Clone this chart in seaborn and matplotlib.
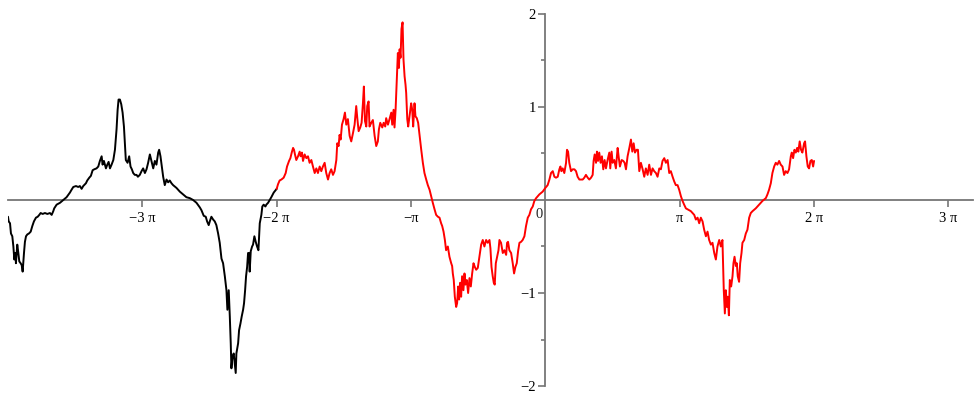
import numpy as np
import pandas as pd
import matplotlib
matplotlib.use("Agg")
import matplotlib.pyplot as plt
import seaborn as sns

sns.set_style("white")
plt.rcParams['font.family'] = ['Liberation Serif', 'DejaVu Serif']

# x values are given in multiples of pi
black_t = [
    -4.000, -3.995, -3.985, -3.978, -3.968, -3.960, -3.953, -3.945, -3.941, -3.931,
    -3.923, -3.916, -3.906, -3.898, -3.891, -3.881, -3.874, -3.866, -3.856, -3.844,
    -3.831, -3.819, -3.807, -3.792, -3.779, -3.767, -3.757, -3.742, -3.725, -3.707,
    -3.688, -3.675, -3.663, -3.656, -3.638, -3.613, -3.589, -3.564, -3.539, -3.527,
    -3.514, -3.494, -3.477, -3.465, -3.452, -3.440, -3.420, -3.410, -3.395, -3.383,
    -3.370, -3.358, -3.341, -3.328, -3.316, -3.303, -3.296, -3.286, -3.271, -3.261,
    -3.251, -3.241, -3.229, -3.216, -3.204, -3.192, -3.184, -3.177, -3.167, -3.157,
    -3.147, -3.137, -3.130, -3.123, -3.110, -3.098, -3.088, -3.078, -3.068, -3.056,
    -3.043, -3.033, -3.019, -3.006, -2.994, -2.981, -2.969, -2.957, -2.944, -2.932,
    -2.919, -2.907, -2.895, -2.882, -2.875, -2.865, -2.857, -2.845, -2.833, -2.820,
    -2.808, -2.796, -2.783, -2.771, -2.746, -2.721, -2.696, -2.672, -2.647, -2.622,
    -2.597, -2.572, -2.560, -2.543, -2.528, -2.518, -2.506, -2.498, -2.486, -2.473,
    -2.461, -2.449, -2.436, -2.424, -2.411, -2.399, -2.386, -2.374, -2.367, -2.357,
    -2.349, -2.342, -2.337, -2.330, -2.320, -2.312, -2.305, -2.300, -2.292, -2.287,
    -2.280, -2.270, -2.260, -2.250, -2.243, -2.235, -2.228, -2.220, -2.213, -2.206,
    -2.201, -2.193, -2.183, -2.176, -2.166, -2.156, -2.146, -2.136, -2.126, -2.114,
    -2.107, -2.097, -2.084, -2.077, -2.064, -2.052, -2.040, -2.022, -2.005, -2.000,
]
black_y = [
    -0.18, -0.23, -0.25, -0.36, -0.39, -0.50, -0.64, -0.57, -0.68, -0.48,
    -0.57, -0.66, -0.68, -0.70, -0.77, -0.57, -0.45, -0.39, -0.37, -0.36,
    -0.34, -0.28, -0.23, -0.19, -0.18, -0.16, -0.14, -0.15, -0.14, -0.15,
    -0.14, -0.16, -0.12, -0.09, -0.05, -0.03, 0.00, 0.03, 0.08, 0.11,
    0.14, 0.15, 0.14, 0.15, 0.12, 0.15, 0.18, 0.21, 0.24, 0.26,
    0.32, 0.33, 0.34, 0.36, 0.42, 0.47, 0.38, 0.42, 0.34, 0.38,
    0.41, 0.34, 0.38, 0.43, 0.54, 0.76, 0.97, 1.08, 1.08, 1.03,
    0.94, 0.79, 0.61, 0.43, 0.40, 0.47, 0.36, 0.33, 0.29, 0.27,
    0.27, 0.25, 0.27, 0.31, 0.34, 0.29, 0.33, 0.40, 0.49, 0.42,
    0.34, 0.42, 0.38, 0.51, 0.54, 0.47, 0.38, 0.25, 0.16, 0.22,
    0.19, 0.21, 0.18, 0.16, 0.13, 0.09, 0.06, 0.03, 0.02, 0.00,
    -0.03, -0.08, -0.11, -0.17, -0.18, -0.23, -0.27, -0.23, -0.18, -0.21,
    -0.23, -0.27, -0.36, -0.46, -0.63, -0.68, -0.82, -0.97, -1.18, -0.97,
    -1.25, -1.54, -1.81, -1.69, -1.65, -1.76, -1.86, -1.65, -1.58, -1.54,
    -1.40, -1.33, -1.25, -1.18, -1.11, -0.97, -0.82, -0.72, -0.57, -0.57,
    -0.77, -0.55, -0.50, -0.48, -0.39, -0.45, -0.50, -0.54, -0.25, -0.16,
    -0.07, -0.05, -0.07, -0.05, -0.03, 0.00, 0.03, 0.08, 0.11, 0.12,
]

red_t = [
    -2.000, -1.990, -1.978, -1.965, -1.948, -1.933, -1.923, -1.908, -1.898, -1.888,
    -1.878, -1.871, -1.864, -1.854, -1.841, -1.829, -1.822, -1.812, -1.804, -1.792,
    -1.779, -1.767, -1.755, -1.742, -1.730, -1.717, -1.705, -1.693, -1.680, -1.668,
    -1.656, -1.643, -1.631, -1.618, -1.606, -1.594, -1.581, -1.569, -1.556, -1.549,
    -1.539, -1.532, -1.524, -1.514, -1.502, -1.492, -1.482, -1.470, -1.457, -1.445,
    -1.432, -1.420, -1.408, -1.400, -1.390, -1.378, -1.368, -1.358, -1.351, -1.343,
    -1.333, -1.326, -1.316, -1.309, -1.296, -1.284, -1.271, -1.259, -1.247, -1.239,
    -1.229, -1.214, -1.204, -1.192, -1.185, -1.172, -1.160, -1.147, -1.140, -1.130,
    -1.123, -1.115, -1.105, -1.098, -1.090, -1.085, -1.078, -1.071, -1.063, -1.056,
    -1.048, -1.041, -1.036, -1.028, -1.021, -1.011, -0.999, -0.991, -0.984, -0.974,
    -0.967, -0.957, -0.947, -0.937, -0.924, -0.912, -0.900, -0.887, -0.875, -0.862,
    -0.850, -0.838, -0.825, -0.813, -0.800, -0.788, -0.776, -0.768, -0.758, -0.748,
    -0.739, -0.726, -0.714, -0.701, -0.694, -0.689, -0.682, -0.674, -0.664, -0.657,
    -0.649, -0.642, -0.634, -0.627, -0.620, -0.610, -0.602, -0.595, -0.585, -0.575,
    -0.565, -0.555, -0.545, -0.535, -0.525, -0.515, -0.503, -0.491, -0.478, -0.466,
    -0.454, -0.441, -0.429, -0.416, -0.409, -0.401, -0.392, -0.384, -0.377, -0.369,
    -0.359, -0.349, -0.342, -0.330, -0.317, -0.305, -0.292, -0.285, -0.278, -0.268,
    -0.255, -0.243, -0.233, -0.223, -0.213, -0.203, -0.193, -0.181, -0.169, -0.156,
    -0.144, -0.131, -0.119, -0.107, -0.094, -0.082, -0.069, -0.045, -0.020, 0.000,
    0.017, 0.030, 0.042, 0.055, 0.067, 0.079, 0.092, 0.104, 0.112, 0.119,
    0.129, 0.141, 0.154, 0.161, 0.169, 0.178, 0.191, 0.203, 0.216, 0.228,
    0.240, 0.253, 0.278, 0.290, 0.302, 0.315, 0.327, 0.340, 0.352, 0.359,
    0.367, 0.377, 0.384, 0.392, 0.401, 0.411, 0.421, 0.431, 0.441, 0.451,
    0.463, 0.476, 0.483, 0.493, 0.501, 0.513, 0.525, 0.538, 0.545, 0.555,
    0.568, 0.580, 0.590, 0.600, 0.612, 0.625, 0.637, 0.647, 0.657, 0.667,
    0.679, 0.689, 0.699, 0.711, 0.724, 0.736, 0.748, 0.761, 0.773, 0.786,
    0.798, 0.810, 0.823, 0.835, 0.848, 0.860, 0.872, 0.885, 0.897, 0.910,
    0.922, 0.934, 0.947, 0.959, 0.971, 0.984, 0.996, 1.009, 1.021, 1.033,
    1.046, 1.058, 1.083, 1.108, 1.120, 1.133, 1.145, 1.157, 1.170, 1.182,
    1.195, 1.207, 1.219, 1.232, 1.244, 1.257, 1.269, 1.281, 1.294, 1.306,
    1.318, 1.323, 1.328, 1.336, 1.343, 1.351, 1.358, 1.366, 1.373, 1.383,
    1.393, 1.400, 1.408, 1.418, 1.425, 1.432, 1.442, 1.450, 1.460, 1.467,
    1.480, 1.492, 1.504, 1.517, 1.529, 1.542, 1.566, 1.591, 1.616, 1.641,
    1.653, 1.665, 1.678, 1.690, 1.703, 1.715, 1.727, 1.740, 1.752, 1.765,
    1.777, 1.789, 1.802, 1.814, 1.827, 1.834, 1.844, 1.854, 1.864, 1.874,
    1.883, 1.893, 1.903, 1.913, 1.926, 1.933, 1.943, 1.953, 1.963, 1.973,
    1.983, 1.993, 2.000,
]
red_y = [
    0.12, 0.17, 0.21, 0.22, 0.24, 0.29, 0.36, 0.42, 0.45, 0.51,
    0.56, 0.54, 0.49, 0.43, 0.47, 0.52, 0.47, 0.51, 0.42, 0.49,
    0.45, 0.47, 0.40, 0.43, 0.36, 0.29, 0.34, 0.29, 0.36, 0.31,
    0.36, 0.40, 0.29, 0.22, 0.29, 0.33, 0.27, 0.31, 0.43, 0.61,
    0.58, 0.70, 0.65, 0.81, 0.87, 0.94, 0.81, 0.87, 0.69, 0.63,
    0.72, 0.81, 1.01, 0.88, 0.74, 0.78, 0.83, 1.04, 1.22, 0.85,
    0.79, 1.01, 1.06, 0.79, 0.83, 0.86, 0.69, 0.58, 0.63, 0.76,
    0.83, 0.78, 0.83, 0.79, 0.88, 0.81, 0.87, 0.94, 0.81, 0.97,
    0.78, 0.97, 1.33, 1.58, 1.42, 1.62, 1.53, 1.84, 1.91, 1.51,
    1.33, 1.24, 1.15, 0.87, 0.79, 0.90, 1.04, 0.97, 0.79, 1.04,
    0.90, 0.88, 0.83, 0.70, 0.54, 0.40, 0.29, 0.22, 0.16, 0.11,
    0.04, -0.03, -0.10, -0.16, -0.18, -0.19, -0.25, -0.28, -0.34, -0.43,
    -0.54, -0.50, -0.61, -0.68, -0.71, -0.79, -0.86, -1.04, -1.15, -1.11,
    -0.93, -1.07, -0.89, -1.04, -0.82, -0.97, -0.79, -0.91, -0.86, -1.00,
    -0.84, -0.93, -0.79, -0.68, -0.72, -0.75, -0.73, -0.61, -0.48, -0.43,
    -0.50, -0.43, -0.46, -0.43, -0.52, -0.72, -0.82, -0.89, -0.91, -0.68,
    -0.61, -0.54, -0.43, -0.46, -0.57, -0.54, -0.59, -0.46, -0.45, -0.54,
    -0.57, -0.68, -0.79, -0.72, -0.68, -0.55, -0.46, -0.45, -0.43, -0.39,
    -0.28, -0.19, -0.16, -0.10, -0.07, -0.01, 0.02, 0.06, 0.09, 0.13,
    0.16, 0.22, 0.29, 0.31, 0.25, 0.24, 0.25, 0.33, 0.36, 0.31,
    0.34, 0.29, 0.40, 0.54, 0.52, 0.40, 0.31, 0.33, 0.33, 0.31,
    0.25, 0.22, 0.22, 0.24, 0.27, 0.24, 0.22, 0.24, 0.27, 0.42,
    0.49, 0.40, 0.52, 0.42, 0.51, 0.40, 0.47, 0.33, 0.43, 0.34,
    0.43, 0.51, 0.34, 0.52, 0.40, 0.43, 0.34, 0.56, 0.47, 0.36,
    0.43, 0.42, 0.40, 0.33, 0.47, 0.56, 0.65, 0.52, 0.61, 0.51,
    0.54, 0.54, 0.31, 0.40, 0.33, 0.25, 0.34, 0.27, 0.38, 0.27,
    0.34, 0.31, 0.29, 0.25, 0.34, 0.33, 0.42, 0.45, 0.40, 0.43,
    0.29, 0.31, 0.25, 0.20, 0.16, 0.16, 0.11, 0.04, -0.01, -0.05,
    -0.09, -0.10, -0.12, -0.16, -0.21, -0.19, -0.25, -0.19, -0.23, -0.32,
    -0.39, -0.34, -0.43, -0.48, -0.46, -0.57, -0.64, -0.50, -0.43, -0.50,
    -0.43, -0.71, -0.97, -1.22, -0.97, -1.15, -1.04, -1.24, -0.86, -0.93,
    -0.82, -0.68, -0.61, -0.71, -0.68, -0.82, -0.88, -0.68, -0.57, -0.46,
    -0.43, -0.36, -0.32, -0.19, -0.14, -0.12, -0.09, -0.05, -0.01, 0.02,
    0.06, 0.11, 0.18, 0.29, 0.36, 0.40, 0.38, 0.42, 0.38, 0.36,
    0.27, 0.31, 0.29, 0.33, 0.47, 0.51, 0.45, 0.54, 0.51, 0.56,
    0.52, 0.63, 0.54, 0.51, 0.61, 0.63, 0.47, 0.36, 0.34, 0.42,
    0.43, 0.36, 0.42,
]

xtick_mult = [-3, -2, -1, 1, 2, 3]
xtick_labels = ['\u22123 \u03c0', '\u22122 \u03c0', '\u2212\u03c0', '\u03c0', '2 \u03c0', '3 \u03c0']
ytick_major = [-2, -1, 1, 2]
ytick_labels = ['\u22122', '\u22121', '1', '2']
ytick_minor = [-1.5, -0.5, 0.5, 1.5]

assert len(black_t) == len(black_y) and len(red_t) == len(red_y)

black = pd.DataFrame({'x': np.array(black_t) * np.pi, 'y': black_y})
red = pd.DataFrame({'x': np.array(red_t) * np.pi, 'y': red_y})

axis_col = '#767676'

fig = plt.figure(figsize=(9.8, 4), dpi=100)
ax = fig.add_axes([8 / 980, 14 / 400, 965 / 980, 372 / 400])

sns.lineplot(data=black, x='x', y='y', color='black', linewidth=1.4,
             sort=False, estimator=None, ax=ax)
sns.lineplot(data=red, x='x', y='y', color='red', linewidth=1.4,
             sort=False, estimator=None, ax=ax)

ax.set_xlim(-4 * np.pi, 10)
ax.set_ylim(-2, 2)
ax.set_xlabel('')
ax.set_ylabel('')

for side in ['top', 'right']:
    ax.spines[side].set_visible(False)
ax.spines['left'].set_position(('data', 0))
ax.spines['bottom'].set_position(('data', 0))
for side in ['left', 'bottom']:
    ax.spines[side].set_color(axis_col)
    ax.spines[side].set_linewidth(1.3)
    ax.spines[side].set_zorder(0.5)

ax.set_xticks([m * np.pi for m in xtick_mult])
ax.set_xticklabels(xtick_labels)
ax.set_yticks(ytick_major)
ax.set_yticklabels(ytick_labels)
ax.set_yticks(ytick_minor, minor=True)

ax.tick_params(axis='both', which='major', direction='out', length=5, width=1.2,
               color=axis_col, labelsize=10.5, labelcolor='black', pad=2,
               bottom=True, left=True)
ax.tick_params(axis='x', which='major', pad=4)
ax.tick_params(axis='y', which='minor', direction='out', length=3, width=1.2,
               color=axis_col, left=True)

ax.annotate('0', xy=(0, 0), xytext=(-2, -6), textcoords='offset points',
            ha='right', va='top', fontsize=10.5)

fig.savefig('out.png', dpi=100, facecolor='white')
